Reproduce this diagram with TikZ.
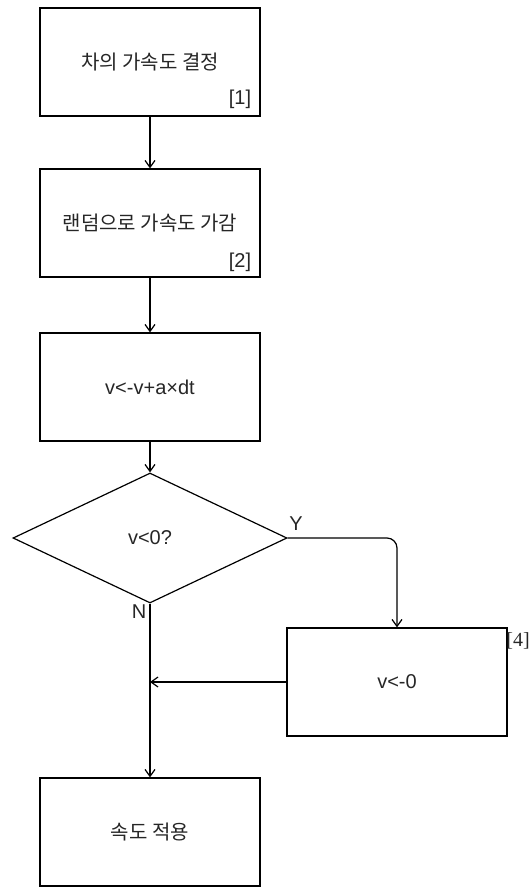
\documentclass[tikz,border=0pt]{standalone}
\usepackage{fontspec}
\setmainfont{Liberation Sans}
\newfontfamily\kr{Noto Sans CJK KR}
\newfontfamily\tm{Liberation Serif}
\usetikzlibrary{shapes.geometric,arrows.meta}
\tikzset{
  box/.style={draw,line width=1.2pt,minimum width=220pt,minimum height=108pt,inner sep=0pt},
  cond/.style={draw,diamond,line width=1.2pt,minimum width=274pt,minimum height=130pt,inner sep=0pt},
  flow/.style={line width=1.2pt,-{Straight Barb[length=7pt,width=10pt]}},
  txt/.style={font=\fontsize{20}{23}\selectfont,text=black!85},
  tagtxt/.style={font=\fontsize{20}{23}\selectfont,text=black!85},
  krtxt/.style={font=\kr\fontsize{20}{23}\selectfont,text=black!85}
}
\begin{document}
\begin{tikzpicture}[x=1pt,y=-1pt]
\useasboundingbox (0,0) rectangle (531,887);
\node[box,krtxt] (accel) at (150,62) {차의 가속도 결정};
\node[box,krtxt] (rand) at (150,223) {랜덤으로 가속도 가감};
\node[box,txt] (upd) at (150,387) {v<-v+a×dt};
\node[cond,txt] (chk) at (150,538) {v<0?};
\node[box,txt] (zero) at (397,682) {v<-0};
\node[box,krtxt] (apply) at (150,832) {속도 적용};
\node[tagtxt] (tag1) at (240,99) {[1]};
\node[tagtxt] (tag2) at (240,262) {[2]};
\node[tagtxt,font=\tm\fontsize{20}{23}\selectfont] (tag4) at (518,641) {[4]};
\coordinate (join) at (150,682);
\draw[flow] (accel) -- (rand);
\draw[flow] (rand) -- (upd);
\draw[flow] (upd) -- (chk);
\draw[flow,rounded corners=10pt] (chk.east) -- (397,538) -- (zero.north);
\draw[flow] (zero.west) -- (join);
\draw[flow] (chk.south) -- (apply.north);
\node[tagtxt] (yes) at (296,524) {Y};
\node[tagtxt] (no) at (139,612) {N};
\end{tikzpicture}
\end{document}
